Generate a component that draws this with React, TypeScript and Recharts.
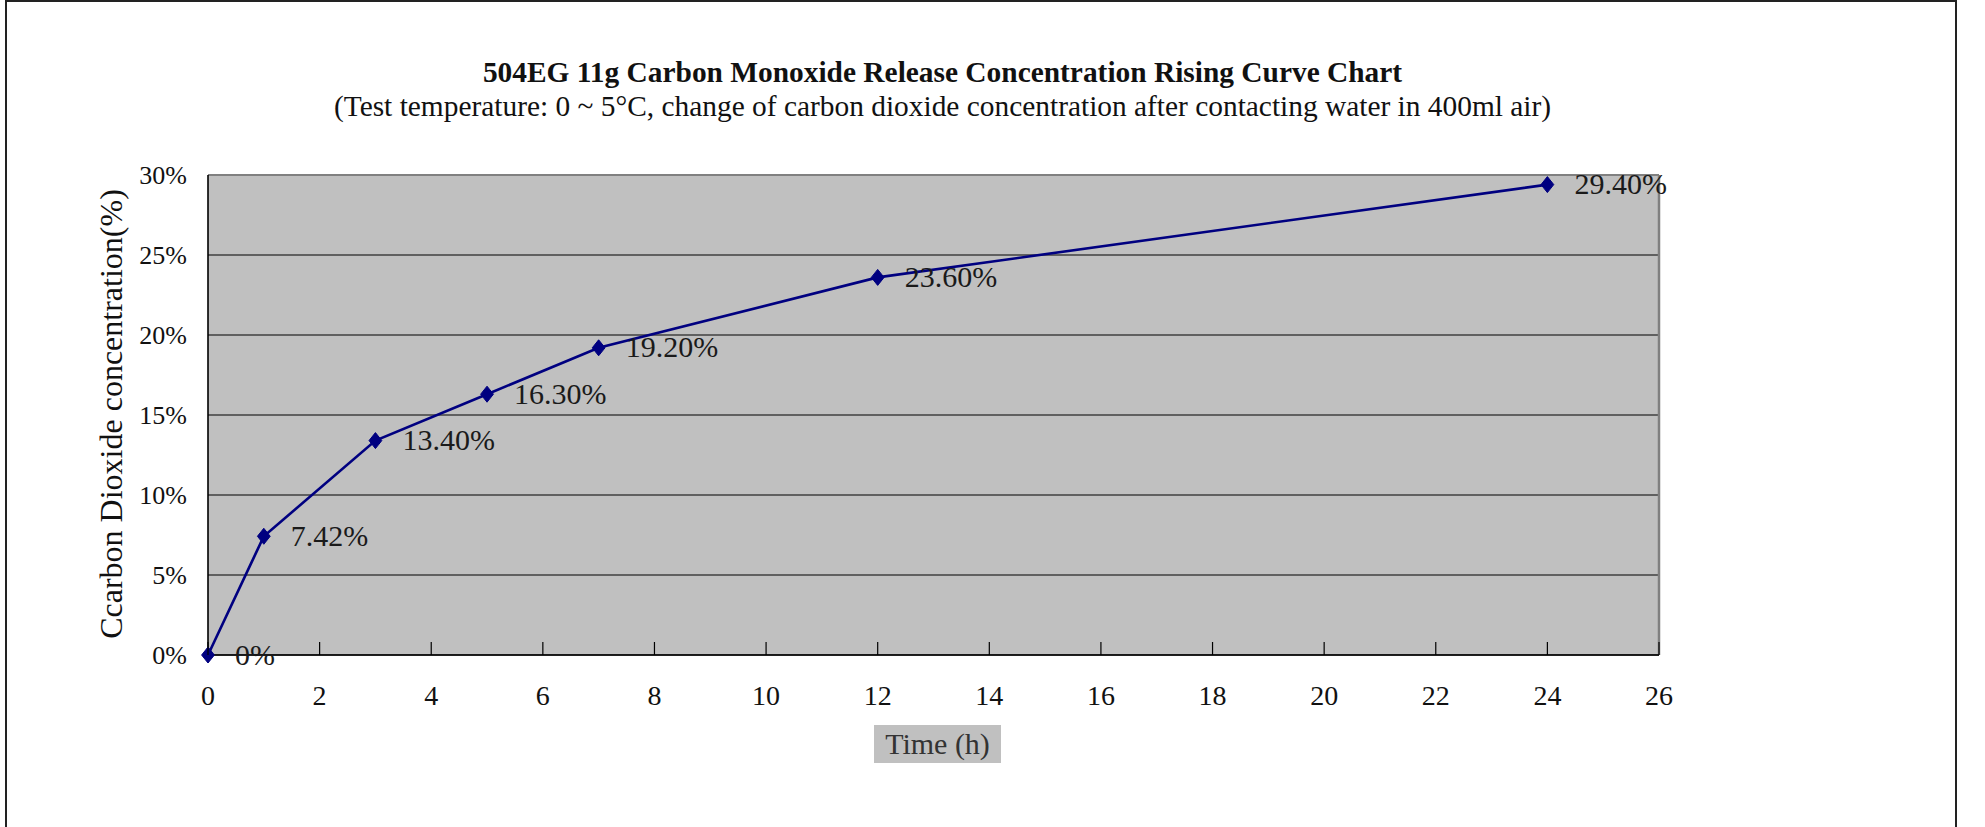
import React from 'react';
import { LineChart, Line, XAxis, YAxis, CartesianGrid, ReferenceLine, LabelList } from 'recharts';

const hours = [0, 1, 3, 5, 7, 12, 24];
const concentration = [0, 7.42, 13.4, 16.3, 19.2, 23.6, 29.4];
const xTicks = [0, 2, 4, 6, 8, 10, 12, 14, 16, 18, 20, 22, 24, 26];
const yTicks = [0, 5, 10, 15, 20, 25, 30];

const titleText = '504EG 11g Carbon Monoxide Release Concentration Rising Curve Chart';
const subtitleText = '(Test temperature: 0 ~ 5\u00B0C, change of carbon dioxide concentration after contacting water in 400ml air)';
const yTitle = 'Ccarbon Dioxide concentration(%)';
const xTitle = 'Time (h)';

const data = hours.map((h, i) => ({ h, c: concentration[i] }));

const FONT = '"Liberation Serif", "Times New Roman", serif';
const NAVY = '#000080';

const fmtLabel = (v: number) => (v === 0 ? '0%' : v.toFixed(2) + '%');

const Diamond = (props: any) => {
  const { cx, cy, index } = props;
  if (cx == null || cy == null) return <g key={index} />;
  const r = 8;
  return (
    <polygon
      key={index}
      points={`${cx},${cy - r} ${cx + r * 0.8},${cy} ${cx},${cy + r} ${cx - r * 0.8},${cy}`}
      fill={NAVY}
      stroke={NAVY}
    />
  );
};

const XTick = (props: any) => {
  const { x, y, payload } = props;
  return (
    <g>
      <line x1={x} y1={y} x2={x} y2={y - 13} stroke="#000" strokeWidth={1.2} />
      <text x={x} y={y + 40} textAnchor="middle" dominantBaseline="central" fontFamily={FONT} fontSize={28} fill="#111">
        {payload.value}
      </text>
    </g>
  );
};

const DataLabel = (props: any) => {
  const { x, y, value } = props;
  return (
    <text x={x + 27} y={y - 1} dominantBaseline="central" fontFamily={FONT} fontSize={30} fill="#1a1a1a">
      {fmtLabel(value)}
    </text>
  );
};

export default function App() {
  return (
    <div style={{ position: 'absolute', left: 0, top: 0, width: 1985, height: 827, background: '#fff', overflow: 'hidden' }}>
      <div
        style={{
          position: 'absolute',
          left: 5,
          top: 0,
          width: 1952,
          height: 840,
          borderTop: '2px solid #222',
          borderLeft: '2px solid #222',
          borderRight: '2px solid #222',
          boxSizing: 'border-box',
        }}
      />
      <div
        style={{
          position: 'absolute',
          left: 0,
          width: 1885,
          top: 54,
          textAlign: 'center',
          fontFamily: FONT,
          fontWeight: 'bold',
          fontSize: 29.4,
          lineHeight: '36px',
          color: '#111',
        }}
      >
        {titleText}
      </div>
      <div
        style={{
          position: 'absolute',
          left: 0,
          width: 1885,
          top: 88,
          textAlign: 'center',
          fontFamily: FONT,
          fontSize: 29.4,
          lineHeight: '36px',
          color: '#111',
        }}
      >
        {subtitleText}
      </div>
      <div
        style={{
          position: 'absolute',
          left: 111 - 300,
          top: 414 - 20,
          width: 600,
          height: 40,
          lineHeight: '40px',
          textAlign: 'center',
          transform: 'rotate(-90deg)',
          fontFamily: FONT,
          fontSize: 32,
          color: '#111',
        }}
      >
        {yTitle}
      </div>
      <div
        style={{
          position: 'absolute',
          left: 874,
          top: 725,
          width: 127,
          height: 38,
          lineHeight: '38px',
          background: '#c0c0c0',
          textAlign: 'center',
          fontFamily: FONT,
          fontSize: 30,
          color: '#333',
        }}
      >
        {xTitle}
      </div>
      <div style={{ position: 'absolute', left: 0, top: 0 }}>
        <LineChart width={1985} height={827} data={data} margin={{ top: 175, right: 326, bottom: 142, left: 148 }}>
          <CartesianGrid fill="#c0c0c0" vertical={false} stroke="#000" strokeWidth={1} />
          <XAxis
            type="number"
            dataKey="h"
            domain={[0, 26]}
            ticks={xTicks}
            interval={0}
            height={30}
            tickSize={0}
            tickMargin={0}
            tick={<XTick />}
            axisLine={{ stroke: '#000', strokeWidth: 1.6 }}
          />
          <YAxis
            type="number"
            domain={[0, 30]}
            ticks={yTicks}
            interval={0}
            width={60}
            tickSize={0}
            tickMargin={21}
            tickFormatter={(v: number) => v + '%'}
            tick={{ fontFamily: FONT, fontSize: 26, fill: '#111' }}
            axisLine={{ stroke: '#000', strokeWidth: 1.6 }}
          />
          <ReferenceLine y={30} stroke="#808080" strokeWidth={2} />
          <ReferenceLine x={26} stroke="#808080" strokeWidth={2.5} />
          <Line
            type="linear"
            dataKey="c"
            stroke={NAVY}
            strokeWidth={2.6}
            dot={(p: any) => <Diamond {...p} />}
            activeDot={false}
            isAnimationActive={false}
          >
            <LabelList dataKey="c" content={<DataLabel />} />
          </Line>
        </LineChart>
      </div>
    </div>
  );
}
